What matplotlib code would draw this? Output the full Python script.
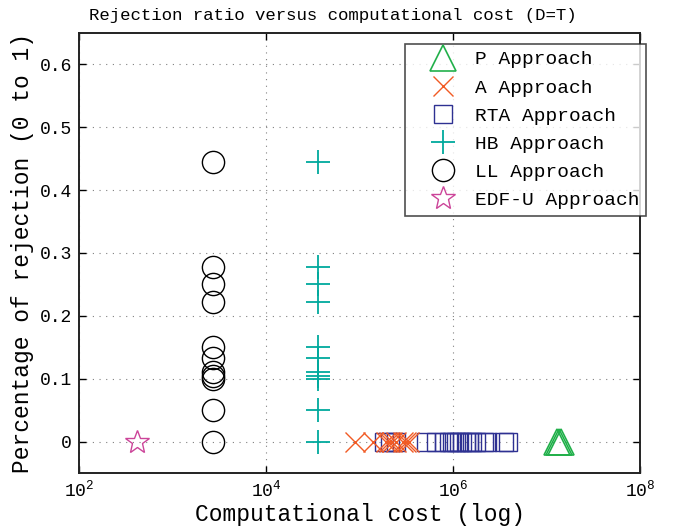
import matplotlib
matplotlib.use("Agg")
import matplotlib.pyplot as plt
import numpy as np

plt.rcParams['font.family'] = ['Liberation Mono', 'DejaVu Sans Mono']
plt.rcParams['mathtext.fontset'] = 'custom'
plt.rcParams['mathtext.rm'] = 'Liberation Mono'

# computational cost (x) and rejection ratio (y) per approach
p_cost = [1.29e7, 1.36e7, 1.43e7]
p_rej = [0, 0, 0]

a_cost = [8.96e4, 1.39e5, 1.92e5, 2.07e5, 2.23e5, 2.46e5, 2.92e5, 3.14e5, 3.38e5]
a_rej = [0, 0, 0, 0, 0, 0, 0, 0, 0]

rta_cost = [1.83e5, 2.12e5, 2.45e5, 5.14e5, 6.58e5, 8.01e5, 9.06e5, 9.76e5,
            1.08e6, 1.16e6, 1.25e6, 1.38e6, 1.48e6, 1.60e6, 1.76e6, 2.15e6,
            2.31e6, 3.51e6, 3.87e6]
rta_rej = [0] * len(rta_cost)

hb_cost = [3.57e4] * 11
hb_rej = [0.444, 0.278, 0.25, 0.222, 0.15, 0.133, 0.111, 0.105, 0.1, 0.05, 0]

ll_cost = [2.7e3] * 11
ll_rej = [0.444, 0.278, 0.25, 0.222, 0.15, 0.133, 0.111, 0.105, 0.1, 0.05, 0]

edf_cost = [420]
edf_rej = [0]

fig = plt.figure(figsize=(6.78, 5.27), dpi=100)
ax = fig.add_axes([0.1165, 0.1025, 0.8275, 0.835])

ax.plot(p_cost, p_rej, '^', ms=19, mfc='none', mec='#22b04b', mew=1.2,
        ls='none', label='P Approach', zorder=3)
ax.plot(a_cost, a_rej, 'x', ms=14.5, mec='#f15a24', mew=1.0,
        ls='none', label='A Approach', zorder=4)
ax.plot(rta_cost, rta_rej, 's', ms=13, mfc='none', mec='#2e3192', mew=1.0,
        ls='none', label='RTA Approach', zorder=3)
ax.plot(hb_cost, hb_rej, '+', ms=17, mec='#00a99d', mew=1.3,
        ls='none', label='HB Approach', zorder=3)
ax.plot(ll_cost, ll_rej, 'o', ms=16, mfc='none', mec='black', mew=1.0,
        ls='none', label='LL Approach', zorder=3)
ax.plot(edf_cost, edf_rej, '*', ms=18, mfc='none', mec='#cc4499', mew=1.0,
        ls='none', label='EDF-U Approach', zorder=3)

ax.set_xscale('log')
ax.set_xlim(1e2, 1e8)
ax.set_ylim(-0.05, 0.65)
ax.set_xticks([1e2, 1e4, 1e6, 1e8])
ax.set_xticklabels([r'$10^2$', r'$10^4$', r'$10^6$', r'$10^8$'])
ax.xaxis.set_minor_locator(matplotlib.ticker.NullLocator())
ax.set_yticks([0, 0.1, 0.2, 0.3, 0.4, 0.5, 0.6])
ax.set_yticklabels(['0', '0.1', '0.2', '0.3', '0.4', '0.5', '0.6'])

ax.grid(True, color='#808080', linestyle=(0, (1, 5)), linewidth=0.8)
ax.tick_params(direction='in', top=True, right=True, length=5, width=1,
               labelsize=13, pad=5)
for s in ax.spines.values():
    s.set_linewidth(1.4)
    s.set_color('#222222')

ax.set_title('Rejection ratio versus computational cost (D=T)', fontsize=12.5,
             pad=9, x=0.453)
ax.set_xlabel('Computational cost (log)', fontsize=16.5, labelpad=2)
ax.set_ylabel('Percentage of rejection (0 to 1)', fontsize=16.5, labelpad=4)

leg = ax.legend(loc='upper right', bbox_to_anchor=(646 / 678, (527 - 44) / 527),
                bbox_transform=fig.transFigure, fontsize=14, frameon=True,
                fancybox=False, borderpad=0.35, labelspacing=0.54,
                handletextpad=0.05, borderaxespad=0, handlelength=3.2)
leg.get_frame().set_edgecolor('#222222')
leg.get_frame().set_linewidth(1.2)

fig.savefig('out.png', dpi=100)
